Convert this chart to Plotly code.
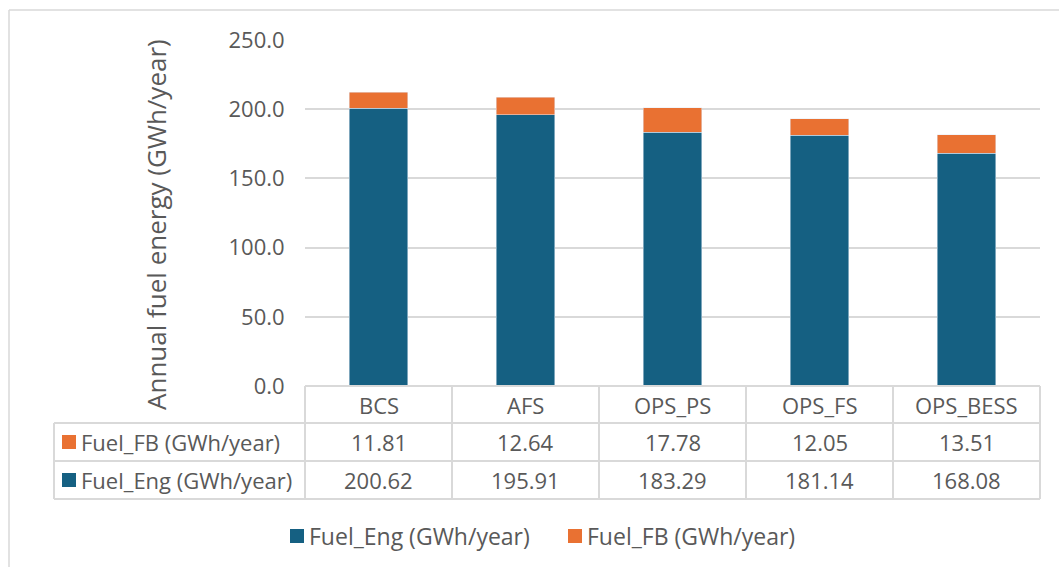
import plotly.graph_objects as go

# Annual fuel energy per operating scenario
scenarios = ["BCS", "AFS", "OPS_PS", "OPS_FS", "OPS_BESS"]
fuel_eng = [200.62, 195.91, 183.29, 181.14, 168.08]
fuel_fb = [11.81, 12.64, 17.78, 12.05, 13.51]
eng_name = "Fuel_Eng (GWh/year)"
fb_name = "Fuel_FB (GWh/year)"
y_ticks = [0, 50, 100, 150, 200, 250]

BLUE = "#156082"
ORANGE = "#E97132"
TEXT = "#595959"
LINE = "#D9D9D9"
FONT = "Open Sans"
FS = 22

W, H = 1059, 567


def px(x):
    return x / W


def py(y):
    return 1 - y / H


# plot-area geometry (pixels)
X0, X1 = 305, 1040
Y_TOP, Y_ZERO = 40, 386
ROW = [386, 423, 461, 499]
LABEL_X0 = 54
n = len(scenarios)
col_w = (X1 - X0) / n

fig = go.Figure()
fig.add_trace(go.Bar(x=scenarios, y=fuel_eng, name=eng_name, marker_color=BLUE,
                     width=0.4, showlegend=False))
fig.add_trace(go.Bar(x=scenarios, y=fuel_fb, name=fb_name, marker_color=ORANGE,
                     width=0.4, showlegend=False))

shapes = []
annotations = []

# outer chart border (left and top edges visible)
shapes.append(dict(type="line", xref="paper", yref="paper",
                   x0=px(9), x1=px(9), y0=py(10), y1=0,
                   line=dict(color=LINE, width=1.5)))
shapes.append(dict(type="line", xref="paper", yref="paper",
                   x0=px(9), x1=1, y0=py(10), y1=py(10),
                   line=dict(color=LINE, width=1.5)))

# data table grid
line = dict(color=LINE, width=2)
shapes.append(dict(type="line", xref="paper", yref="paper",
                   x0=px(X0), x1=px(X1), y0=py(ROW[0]), y1=py(ROW[0]), line=line))
for r in ROW[1:]:
    shapes.append(dict(type="line", xref="paper", yref="paper",
                       x0=px(LABEL_X0), x1=px(X1), y0=py(r), y1=py(r), line=line))
shapes.append(dict(type="line", xref="paper", yref="paper",
                   x0=px(LABEL_X0), x1=px(LABEL_X0), y0=py(ROW[1]), y1=py(ROW[3]), line=line))
for k in range(n + 1):
    xk = X0 + col_w * k
    shapes.append(dict(type="line", xref="paper", yref="paper",
                       x0=px(xk), x1=px(xk), y0=py(ROW[0]), y1=py(ROW[3]), line=line))

tfont = dict(family=FONT, size=FS, color=TEXT)
row_mid = [(ROW[i] + ROW[i + 1]) / 2 for i in range(3)]

# header row with scenario names, then value rows
for i, s in enumerate(scenarios):
    cx = X0 + col_w * (i + 0.5)
    annotations.append(dict(x=px(cx), y=py(row_mid[0]), xref="paper", yref="paper",
                            text=s, showarrow=False, font=tfont,
                            xanchor="center", yanchor="middle"))
    annotations.append(dict(x=px(cx), y=py(row_mid[1]), xref="paper", yref="paper",
                            text=f"{fuel_fb[i]:.2f}", showarrow=False, font=tfont,
                            xanchor="center", yanchor="middle"))
    annotations.append(dict(x=px(cx), y=py(row_mid[2]), xref="paper", yref="paper",
                            text=f"{fuel_eng[i]:.2f}", showarrow=False, font=tfont,
                            xanchor="center", yanchor="middle"))


def key(x, ymid, color, label, size=FS):
    shapes.append(dict(type="rect", xref="paper", yref="paper",
                       x0=px(x), x1=px(x + 14), y0=py(ymid - 7), y1=py(ymid + 7),
                       fillcolor=color, line=dict(width=0)))
    annotations.append(dict(x=px(x + 17), y=py(ymid), xref="paper", yref="paper",
                            text=label, showarrow=False,
                            font=dict(family=FONT, size=size, color=TEXT),
                            xanchor="left", yanchor="middle"))


# row labels with legend keys
key(62, row_mid[1], ORANGE, fb_name)
key(62, row_mid[2], BLUE, eng_name)

# legend beneath the table
key(290, 536, BLUE, eng_name, 23)
key(568, 536, ORANGE, fb_name, 23)

# y-axis title
annotations.append(dict(x=px(156), y=py(225), xref="paper", yref="paper",
                        text="Annual fuel energy (GWh/year)", textangle=-90,
                        showarrow=False, font=dict(family=FONT, size=26, color=TEXT),
                        xanchor="center", yanchor="middle"))

fig.update_layout(
    width=W, height=H,
    margin=dict(l=0, r=0, t=0, b=0, autoexpand=False),
    paper_bgcolor="white", plot_bgcolor="white",
    barmode="stack",
    xaxis=dict(domain=[px(X0), px(X1)], range=[-0.5, n - 0.5],
               showticklabels=False, showgrid=False, zeroline=False,
               showline=False, ticks=""),
    yaxis=dict(domain=[py(Y_ZERO), py(Y_TOP)], range=[0, 250],
               tickvals=y_ticks, ticktext=[f"{v:.1f}" for v in y_ticks],
               tickfont=dict(family=FONT, size=FS, color=TEXT),
               showgrid=True, gridcolor=LINE, gridwidth=1.5,
               zeroline=False, showline=False, ticks="outside",
               ticklen=15, tickcolor="rgba(0,0,0,0)"),
    shapes=shapes,
    annotations=annotations,
    showlegend=False,
)

fig.write_html("out.html")
